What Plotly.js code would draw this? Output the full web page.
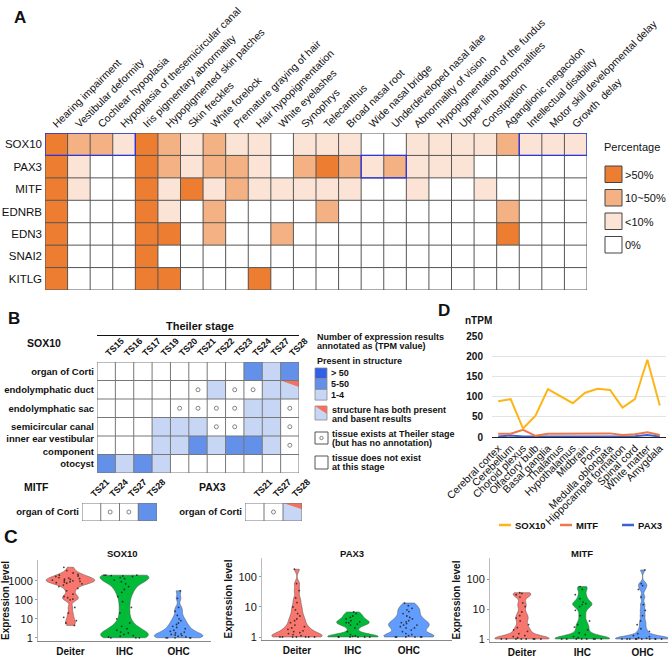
<!DOCTYPE html>
<html>
<head>
<meta charset="utf-8">
<script src="https://cdn.plot.ly/plotly-3.0.1.min.js"></script>
<style>
  html, body { margin: 0; padding: 0; background: #fff; }
  #plot { width: 669px; height: 657px; }
</style>
</head>
<body>
<div id="plot"></div>
<script>
var FONT = 'Liberation Sans, Arial, sans-serif';
var W = 669, H = 657;

// ---- A: share of patients with each phenotype, per gene
var phenotypes = ['Hearing impairment', 'Vestibular deformity', 'Cochlear hypoplasia',
  'Hypoplasia of thesemicircular canal', 'Iris pigmentary abnormality', 'Hypopigmented skin patches',
  'Skin freckles', 'White forelock', 'Premature graying of hair', 'Hair hypopigmentation',
  'White eyelashes', 'Synophrys', 'Telecanthus', 'Broad nasal root', 'Wide nasal bridge',
  'Underdeveloped nasal alae', 'Abnormality of vision', 'Hypopigmentation of the fundus',
  'Upper limb abnormalities', 'Constipation', 'Aganglionic megacolon', 'Intellectual disability',
  'Motor skill developmental delay', 'Growth  delay'];
var genesA = ['SOX10', 'PAX3', 'MITF', 'EDNRB', 'EDN3', 'SNAI2', 'KITLG'];
// 0 = 0%, 1 = <10%, 2 = 10~50%, 3 = >50%
var levelsA = [
  [3,2,2,1,3,2,1,2,1,1,0,1,1,1,0,0,1,1,1,1,2,1,1,1],
  [3,1,0,0,3,2,1,2,2,1,0,2,3,2,1,2,1,1,1,0,0,0,0,0],
  [3,1,0,0,3,1,3,1,2,1,1,1,1,1,0,0,1,0,0,1,0,0,0,0],
  [3,0,0,0,3,1,0,2,0,0,0,0,2,0,0,0,0,0,0,0,2,0,0,0],
  [3,0,0,0,3,3,0,2,0,0,2,0,0,0,0,0,0,0,0,0,3,0,0,0],
  [3,0,0,0,3,0,0,0,0,0,0,0,0,0,0,0,0,0,0,0,0,0,0,0],
  [3,0,0,0,3,3,0,0,0,3,0,0,0,0,0,0,0,0,0,0,0,0,0,0]
];
var levelNames = ['0%', '<10%', '10~50%', '>50%'];
var oranges = ['#FFFFFF', '#FBE4D5', '#F4B183', '#ED7D31'];

// ---- B: expression calls by Theiler stage
// '' tissue absent, 'o' tissue present but not annotated, 1 = 1-4, 2 = 5-50, 3 = >50, 'h' present and absent
var stagesSox = ['TS15', 'TS16', 'TS17', 'TS19', 'TS20', 'TS21', 'TS22', 'TS23', 'TS24', 'TS27', 'TS28'];
var tissuesSox = ['organ of Corti', 'endolymphatic duct', 'endolymphatic sac', 'semicircular canal',
  'inner ear vestibular<br>component', 'otocyst'];
var callsSox = [
  ['', '', '', '', '', '', '', '', '2', '1', '2'],
  ['', '', '', '', '', 'o', '1', 'o', 'o', '1', 'h'],
  ['', '', '', '', 'o', 'o', 'o', 'o', '1', '1', 'o'],
  ['', '', '', '1', '1', '1', 'o', 'o', '1', '1', 'o'],
  ['', '', '', '1', '1', '2', '1', '2', '2', '1', 'o'],
  ['2', '1', '2', '1', '', '', '', '', '', '', '']
];
var stagesMitf = ['TS21', 'TS24', 'TS27', 'TS28'];
var callsMitf = [['', 'o', 'o', '2']];
var stagesPax = ['TS21', 'TS27', 'TS28'];
var callsPax = [['', 'o', 'h']];
var blues = ['#FFFFFF', '#C8D6F6', '#6390E9', '#3160E6'];

// ---- C: single-cell expression (expression level)
var cellTypes = ['Deiter', 'IHC', 'OHC'];
var cellColors = ['#F8766D', '#00BA38', '#619CFF'];
var sox10Deiter = [5200, 3500, 2600, 2200, 2000, 1800, 1700, 1500, 1400, 1300, 1250, 1200, 1100, 1050,
  1000, 950, 900, 850, 800, 750, 700, 600, 500, 400, 300, 200, 150, 130, 110, 100, 40, 20, 12, 8, 6, 4.5];
var sox10IHC = [2000, 2000, 2000, 1900, 1800, 1700, 1500, 1300, 1100, 900, 700, 500, 350, 250, 150, 80,
  40, 20, 10, 6, 4, 3, 2.5, 2, 1.8, 1.5, 1.3, 1.2, 1.1, 1, 1, 1];
var sox10OHC = [300, 120, 40, 25, 15, 10, 8, 6, 5, 4, 3.5, 3, 2.5, 2.2, 2, 1.8, 1.6, 1.5, 1.4, 1.3,
  1.2, 1.1, 1, 1, 1, 1, 1];
var pax3Deiter = [1, 1, 1, 1, 1, 1, 1, 1.1, 1.2, 1.3, 1.4, 1.5, 1.6, 1.8, 2, 2.2, 2.5, 3, 3.5, 4, 5, 6,
  8, 10, 14, 20, 35, 60, 180];
var pax3IHC = [1, 1, 1, 1, 1, 1, 1.05, 1.1, 1.2, 1.5, 2, 2.5, 2.7, 3, 3, 3.2, 3.5, 4, 4.5, 5, 6, 6.8];
var pax3OHC = [1, 1, 1, 1, 1, 1, 1.1, 1.2, 1.3, 1.5, 1.7, 2, 2, 2.2, 2.5, 2.5, 2.8, 3, 3.2, 3.5, 4,
  4.5, 5, 6, 7, 8, 9, 11, 13.5];
var mitfDeiter = [1, 1, 1, 1, 1, 1, 1, 1, 1.1, 1.2, 1.3, 1.5, 1.8, 2, 2.4, 3, 4, 5, 6, 8, 12, 16, 25,
  30, 33, 35];
var mitfIHC = [1, 1, 1, 1, 1, 1, 1, 1, 1.1, 1.2, 1.4, 1.6, 2, 2.5, 3, 4, 6, 9, 12, 14, 15, 17, 22, 30,
  45, 56];
var mitfOHC = [1, 1, 1, 1, 1, 1, 1, 1, 1, 1, 1.05, 1.1, 1.2, 1.3, 1.5, 1.8, 2.2, 3, 4, 6, 9, 14, 25,
  45, 60, 70, 200];

// ---- D: brain region expression (nTPM)
var regions = ['Cerebral cortex', 'Cerebellum', 'Choroid plexus', 'Olfactory bulb', 'Basal ganglia',
  'Thalamus', 'Hypothalamus', 'Midbrain', 'Pons', 'Medulla oblongata', 'Hippocampal formation',
  'Spinal cord', 'White matter', 'Amygdala'];
var sox10Brain = [89, 94, 21, 53, 119, 101, 84, 110, 120, 117, 73, 94, 192, 78];
var mitfBrain = [8, 8, 18, 3, 8, 8, 8, 9, 9, 9, 5, 7, 12, 5];
var pax3Brain = [1, 4, 1, 0.5, 1, 1, 1, 1, 1, 1, 1, 2, 5, 1];
var brainNames = ['SOX10', 'MITF', 'PAX3'];
var brainColors = ['#FDB515', '#F0764B', '#3A62D6'];

// helpers
function px(x) { return x / W; }
function py(y) { return 1 - y / H; }
function hdom(a, b) { return [a / W, b / W]; }
function vdom(top, bottom) { return [1 - bottom / H, 1 - top / H]; }
function idx(a) { return a.map(function (d, i) { return i; }); }
function scale(cols) {
  return cols.map(function (c, i) { return [i / (cols.length - 1), c]; });
}
function callLevel(c) { return c === 'h' ? 1 : (+c || 0); }

function gridLines(n, nx, ny, color) {
  var out = [];
  for (var i = 0; i <= nx; i++) {
    out.push({type: 'line', xref: 'x' + n, yref: 'y' + n, x0: i - 0.5, x1: i - 0.5, y0: -0.5, y1: ny - 0.5,
      line: {color: color, width: 1}});
  }
  for (var j = 0; j <= ny; j++) {
    out.push({type: 'line', xref: 'x' + n, yref: 'y' + n, x0: -0.5, x1: nx - 0.5, y0: j - 0.5, y1: j - 0.5,
      line: {color: color, width: 1}});
  }
  return out;
}

var traces = [];
var shapes = [];
var annots = [];

function label(text, x, y, size, bold, anchor) {
  annots.push({text: text, x: px(x), y: py(y), xref: 'paper', yref: 'paper', showarrow: false,
    xanchor: anchor || 'left', yanchor: 'middle',
    font: {family: FONT, size: size, color: '#111', weight: bold ? 'bold' : 'normal'}});
}

// A heatmap
traces.push({
  type: 'heatmap', x: idx(phenotypes), y: idx(genesA), z: levelsA, zmin: 0, zmax: 3,
  colorscale: scale(oranges), showscale: false, xaxis: 'x', yaxis: 'y', hoverinfo: 'skip'
});
shapes = shapes.concat(gridLines('', phenotypes.length, genesA.length, '#555'));
[[0, 3, 0], [21, 23, 0], [14, 15, 1]].forEach(function (b) {
  shapes.push({type: 'rect', xref: 'x', yref: 'y', x0: b[0] - 0.5, x1: b[1] + 0.5, y0: b[2] - 0.5,
    y1: b[2] + 0.5, line: {color: '#2B35E0', width: 1.3}});
});
label('Percentage', 602, 147, 11);
levelNames.slice().reverse().forEach(function (name, i) {
  var top = 166 + i * 23.5;
  shapes.push({type: 'rect', xref: 'paper', yref: 'paper', x0: px(605), x1: px(622), y0: py(top),
    y1: py(top + 16.5), fillcolor: oranges[3 - i], line: {color: '#444', width: 1}});
  label(name, 623, top + 8.5, 11);
});

// B grids
function stageGrid(n, stages, tissues, calls) {
  traces.push({
    type: 'heatmap', x: idx(stages), y: idx(tissues),
    z: calls.map(function (r) { return r.map(callLevel); }), zmin: 0, zmax: 3,
    colorscale: scale(blues), showscale: false, xaxis: 'x' + n, yaxis: 'y' + n, hoverinfo: 'skip'
  });
  var ox = [], oy = [];
  calls.forEach(function (r, j) {
    r.forEach(function (c, i) {
      if (c === 'o') { ox.push(i); oy.push(j); }
      if (c === 'h') {
        shapes.push({type: 'path', xref: 'x' + n, yref: 'y' + n, fillcolor: '#F2725E', line: {width: 0},
          path: 'M ' + (i - 0.5) + ',' + (j - 0.5) + ' L ' + (i + 0.5) + ',' + (j - 0.5) + ' L ' +
            (i + 0.5) + ',' + (j - 0.15) + ' Z'});
      }
    });
  });
  traces.push({type: 'scatter', mode: 'markers', x: ox, y: oy, xaxis: 'x' + n, yaxis: 'y' + n,
    marker: {symbol: 'circle-open', size: 4, color: '#666', line: {width: 0.8}}, hoverinfo: 'skip'});
  shapes = shapes.concat(gridLines(n, stages.length, tissues.length, '#777'));
}
stageGrid(2, stagesSox, tissuesSox, callsSox);
stageGrid(3, stagesMitf, ['organ of Corti'], callsMitf);
stageGrid(4, stagesPax, ['organ of Corti'], callsPax);

label('Theiler stage', 200, 326, 11, true, 'center');
shapes.push({type: 'line', xref: 'paper', yref: 'paper', x0: px(97), x1: px(299), y0: py(335.5), y1: py(335.5),
  line: {color: '#111', width: 1}});
label('SOX10', 44, 343, 10.5, true, 'center');
label('MITF', 36, 487, 10.5, true, 'center');
label('PAX3', 213, 487, 10.5, true, 'center');

// B legend
label('Number of expression results', 315, 337, 9, true);
label('annotated as (TPM value)', 315, 346, 9, true);
label('Present in structure', 315, 361, 9, true);
['> 50', '5-50', '1-4'].forEach(function (t, i) {
  var top = 368 + i * 10.7;
  shapes.push({type: 'rect', xref: 'paper', yref: 'paper', x0: px(315), x1: px(327), y0: py(top),
    y1: py(top + 10.7), fillcolor: blues[3 - i], line: {color: '#888', width: 0.8}});
  label(t, 329, top + 5.3, 9, true);
});
shapes.push({type: 'rect', xref: 'paper', yref: 'paper', x0: px(315), x1: px(327), y0: py(406), y1: py(420),
  fillcolor: blues[1], line: {color: '#888', width: 0.8}});
shapes.push({type: 'path', xref: 'paper', yref: 'paper', fillcolor: '#F2725E', line: {width: 0},
  path: 'M ' + px(315) + ',' + py(406) + ' L ' + px(327) + ',' + py(406) + ' L ' + px(327) + ',' + py(414) + ' Z'});
label('structure has both present', 330, 410, 9, true);
label('and basent results', 330, 418.5, 9, true);
shapes.push({type: 'rect', xref: 'paper', yref: 'paper', x0: px(315), x1: px(328), y0: py(432), y1: py(444),
  fillcolor: '#fff', line: {color: '#555', width: 1}});
shapes.push({type: 'circle', xref: 'paper', yref: 'paper', x0: px(319.8), x1: px(323.2), y0: py(436.3),
  y1: py(439.7), line: {color: '#666', width: 0.8}});
label('tissue exists at Theiler stage', 330, 433.5, 9, true);
label('(but has no annotation)', 330, 443, 9, true);
shapes.push({type: 'rect', xref: 'paper', yref: 'paper', x0: px(315), x1: px(328), y0: py(456), y1: py(469),
  fillcolor: '#fff', line: {color: '#555', width: 1}});
label('tissue does not exist', 330, 457.5, 9, true);
label('at this stage', 330, 467, 9, true);

// C violins
function violinSet(n, groups, bws) {
  groups.forEach(function (vals, i) {
    traces.push({
      type: 'violin', name: cellTypes[i], y: vals.map(Math.log10), xaxis: 'x' + n, yaxis: 'y' + n,
      points: 'all', pointpos: 0, jitter: 0.9, spanmode: 'hard', scalemode: 'width', width: 0.9,
      bandwidth: bws[i], fillcolor: cellColors[i], opacity: 1, line: {color: '#555', width: 0.5},
      marker: {size: 1.8, color: '#222', opacity: 0.85}, box: {visible: false},
      meanline: {visible: false}, hoveron: 'points', showlegend: false
    });
  });
}
violinSet(5, [sox10Deiter, sox10IHC, sox10OHC], [0.13, 0.25, 0.15]);
violinSet(6, [pax3Deiter, pax3IHC, pax3OHC], [0.1, 0.08, 0.1]);
violinSet(7, [mitfDeiter, mitfIHC, mitfOHC], [0.09, 0.09, 0.08]);
label('SOX10', 122, 553, 9.5, true, 'center');
label('PAX3', 352, 553, 9.5, true, 'center');
label('MITF', 582, 553, 9.5, true, 'center');

// D lines
[pax3Brain, mitfBrain, sox10Brain].forEach(function (vals, k) {
  var i = 2 - k;
  traces.push({type: 'scatter', mode: 'lines', x: regions, y: vals, xaxis: 'x8', yaxis: 'y8',
    name: brainNames[i], line: {color: brainColors[i], width: 2}, showlegend: false});
});
label('nTPM', 478, 320, 10, true, 'center');
[[499, 'SOX10'], [560, 'MITF'], [622, 'PAX3']].forEach(function (d, i) {
  shapes.push({type: 'line', xref: 'paper', yref: 'paper', x0: px(d[0]), x1: px(d[0] + 12), y0: py(525),
    y1: py(525), line: {color: brainColors[i], width: 2.5}});
  label(d[1], d[0] + 14, 525, 9.5, true);
});

// panel letters
label('A', 12, 17, 17, true);
label('B', 6, 318, 17, true);
label('C', 2, 536, 19, true);
label('D', 436, 310, 17, true);

function gridAxis(dom, n, labels, extra) {
  var a = {domain: dom, range: [-0.5, n - 0.5], tickmode: 'array', tickvals: idx(labels), ticktext: labels,
    ticks: '', showgrid: false, zeroline: false, showline: false, fixedrange: true};
  for (var k in extra) a[k] = extra[k];
  return a;
}
var tsFont = {family: FONT, size: 9, color: '#111', weight: 'bold'};
var rowFont = {family: FONT, size: 9.5, color: '#111', weight: 'bold'};

function violinX(dom, range, n) {
  return {domain: dom, type: 'category', categoryorder: 'array', categoryarray: cellTypes, range: range,
    showline: true, linecolor: '#888', ticks: '', showgrid: false, zeroline: false, anchor: 'y' + n,
    tickfont: {family: FONT, size: 10, color: '#111', weight: 'bold'}, ticklabelstandoff: 1};
}
function violinY(dom, range, n) {
  return {domain: dom, range: range, tickmode: 'array', tickvals: [0, 1, 2, 3], ticktext: ['1', '10', '100', '1000'],
    showline: true, linecolor: '#bbb', ticks: 'outside', ticklen: 2, tickcolor: '#999', showgrid: false,
    zeroline: false, anchor: 'x' + n, tickfont: {family: FONT, size: 11, color: '#111'},
    title: {text: 'Expression level', standoff: 3, font: {family: FONT, size: 10, color: '#111', weight: 'bold'}}};
}

var layout = {
  width: W, height: H, margin: {l: 0, r: 0, t: 0, b: 0},
  paper_bgcolor: '#fff', plot_bgcolor: '#fff',
  font: {family: FONT, size: 11, color: '#111'},
  showlegend: false, violinmode: 'overlay', hovermode: false,
  xaxis: gridAxis(hdom(45, 587), phenotypes.length, phenotypes,
    {side: 'top', tickangle: -45, anchor: 'y', tickfont: {family: FONT, size: 10.5, color: '#111'},
     ticklabelstandoff: 0, ticklabelshift: -3}),
  yaxis: gridAxis(vdom(133, 290), genesA.length, genesA,
    {range: [genesA.length - 0.5, -0.5], anchor: 'x', tickfont: {family: FONT, size: 11.5, color: '#111'},
     ticklabelstandoff: 2}),
  xaxis2: gridAxis(hdom(97, 299), stagesSox.length, stagesSox,
    {side: 'top', tickangle: -45, anchor: 'y2', tickfont: tsFont, ticklabelstandoff: 1}),
  yaxis2: gridAxis(vdom(362, 473), tissuesSox.length, tissuesSox,
    {range: [tissuesSox.length - 0.5, -0.5], anchor: 'x2', tickfont: rowFont, ticklabelstandoff: 2}),
  xaxis3: gridAxis(hdom(82, 157), stagesMitf.length, stagesMitf,
    {side: 'top', tickangle: -45, anchor: 'y3', tickfont: tsFont, ticklabelstandoff: 1}),
  yaxis3: gridAxis(vdom(503, 521), 1, ['organ of Corti'],
    {range: [0.5, -0.5], anchor: 'x3', tickfont: rowFont, ticklabelstandoff: 2}),
  xaxis4: gridAxis(hdom(245, 302), stagesPax.length, stagesPax,
    {side: 'top', tickangle: -45, anchor: 'y4', tickfont: tsFont, ticklabelstandoff: 1}),
  yaxis4: gridAxis(vdom(503, 521), 1, ['organ of Corti'],
    {range: [0.5, -0.5], anchor: 'x4', tickfont: rowFont, ticklabelstandoff: 2}),
  xaxis5: violinX(hdom(38, 211), [-0.6, 2.6], 5),
  yaxis5: violinY(vdom(560, 641), [-0.17, 4.1], 5),
  xaxis6: violinX(hdom(262, 452), [-0.625, 2.77], 6),
  yaxis6: violinY(vdom(558, 640), [-0.1, 2.63], 6),
  xaxis7: violinX(hdom(490, 668), [-0.53, 2.42], 7),
  yaxis7: violinY(vdom(558, 642), [-0.1, 2.7], 7),
  xaxis8: {domain: hdom(492, 666), type: 'category', range: [-0.5, regions.length - 0.5], anchor: 'y8',
    tickmode: 'array', tickvals: regions, ticktext: regions,
    tickangle: -45, ticks: '', showline: true, linecolor: '#222', showgrid: false, zeroline: false,
    tickfont: {family: FONT, size: 10.5, color: '#111'}},
  yaxis8: {domain: vdom(336, 437), range: [0, 251], dtick: 50, anchor: 'x8', ticks: '', showline: false,
    gridcolor: '#e3e3e3', zeroline: false, ticklabelstandoff: 8,
    tickfont: {family: FONT, size: 10, color: '#111', weight: 'bold'}},
  shapes: shapes,
  annotations: annots
};

Plotly.newPlot('plot', traces, layout, {staticPlot: true});
</script>
</body>
</html>
